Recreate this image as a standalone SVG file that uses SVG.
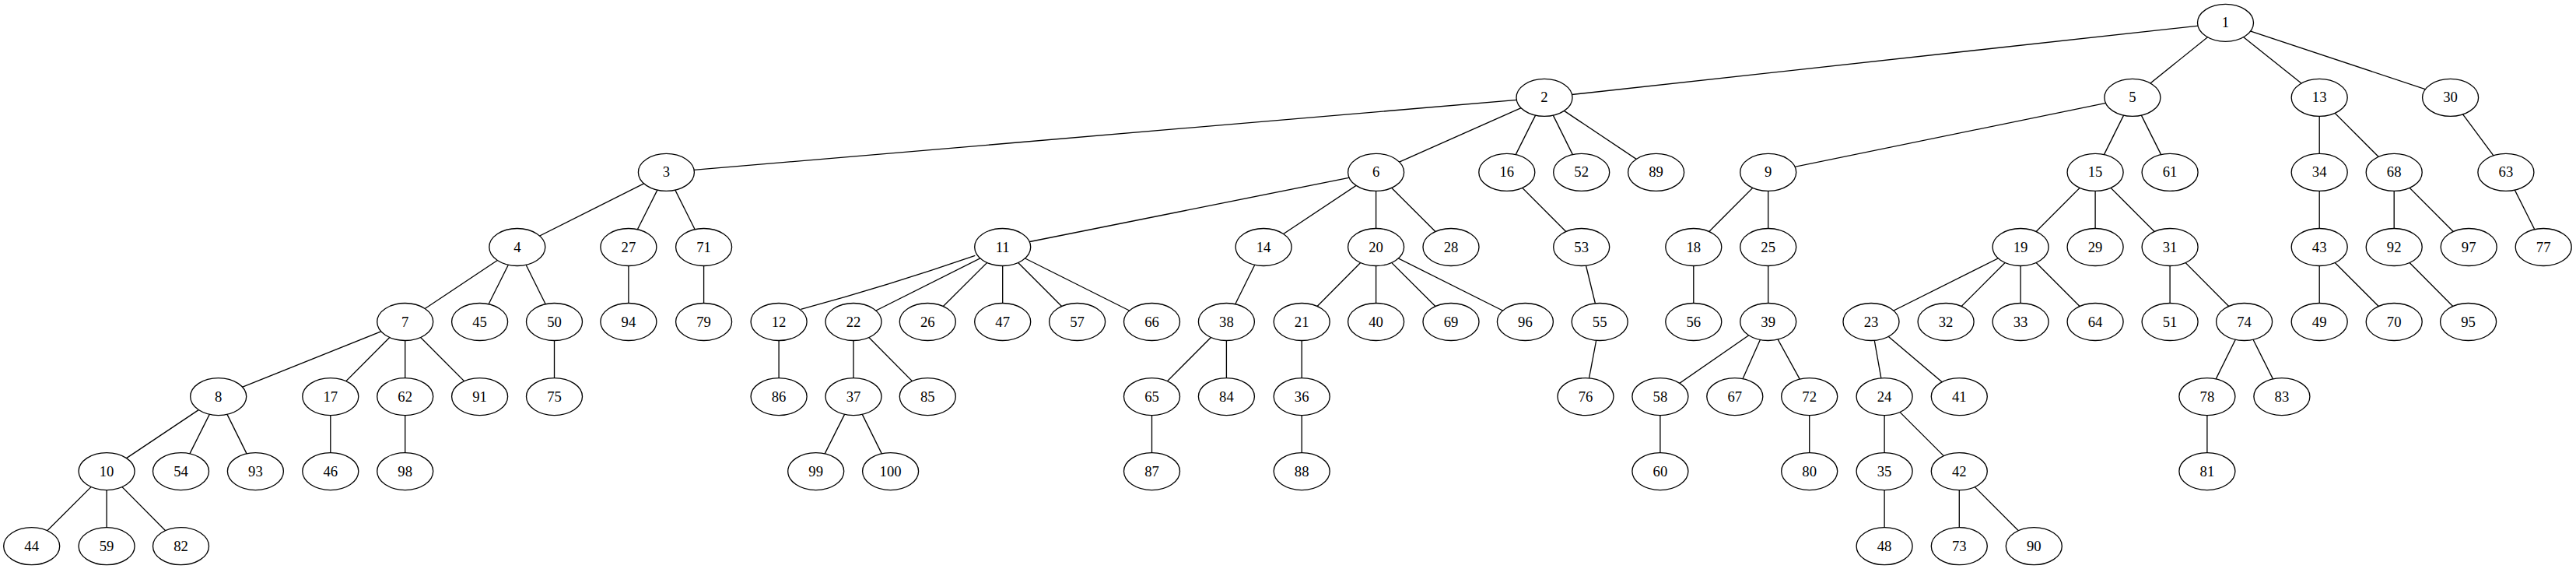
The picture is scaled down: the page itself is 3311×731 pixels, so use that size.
<svg xmlns="http://www.w3.org/2000/svg" width="3311" height="731" viewBox="0 0 3311 731">
<style>
.n ellipse{fill:#fff;stroke:#000;stroke-width:1.33}
.n text{font-family:"Liberation Serif","Times New Roman",serif;font-size:18.67px;text-anchor:middle;fill:#000}
#edges line,#edges path{stroke:#000;stroke-width:1.33;fill:none}
</style>
<rect width="3311" height="731" fill="#fff"/>
<g id="edges">
<line x1="2860.5" y1="29.3" x2="1985" y2="125.4"/>
<line x1="2860.5" y1="29.3" x2="2740.9" y2="125.4"/>
<line x1="2860.5" y1="29.3" x2="2981.2" y2="125.4"/>
<line x1="2860.5" y1="29.3" x2="3149.6" y2="125.4"/>
<line x1="1985" y1="125.4" x2="856.4" y2="221.4"/>
<line x1="1985" y1="125.4" x2="1768.6" y2="221.4"/>
<line x1="1985" y1="125.4" x2="1936.8" y2="221.4"/>
<line x1="1985" y1="125.4" x2="2032.7" y2="221.4"/>
<line x1="1985" y1="125.4" x2="2128.6" y2="221.4"/>
<line x1="856.4" y1="221.4" x2="664.8" y2="317.5"/>
<line x1="856.4" y1="221.4" x2="807.9" y2="317.5"/>
<line x1="856.4" y1="221.4" x2="904.6" y2="317.5"/>
<line x1="664.8" y1="317.5" x2="520.7" y2="413.5"/>
<line x1="664.8" y1="317.5" x2="616.6" y2="413.5"/>
<line x1="664.8" y1="317.5" x2="712.5" y2="413.5"/>
<line x1="520.7" y1="413.5" x2="280.7" y2="509.6"/>
<line x1="520.7" y1="413.5" x2="424.8" y2="509.6"/>
<line x1="520.7" y1="413.5" x2="520.7" y2="509.6"/>
<line x1="520.7" y1="413.5" x2="616.6" y2="509.6"/>
<line x1="280.7" y1="509.6" x2="137.1" y2="605.6"/>
<line x1="280.7" y1="509.6" x2="232.5" y2="605.6"/>
<line x1="280.7" y1="509.6" x2="328.4" y2="605.6"/>
<line x1="137.1" y1="605.6" x2="40.7" y2="701.7"/>
<line x1="137.1" y1="605.6" x2="137.1" y2="701.7"/>
<line x1="137.1" y1="605.6" x2="232.5" y2="701.7"/>
<line x1="424.8" y1="509.6" x2="424.8" y2="605.6"/>
<line x1="520.7" y1="509.6" x2="520.7" y2="605.6"/>
<line x1="712.5" y1="413.5" x2="712.5" y2="509.6"/>
<line x1="807.9" y1="317.5" x2="807.9" y2="413.5"/>
<line x1="904.6" y1="317.5" x2="904.6" y2="413.5"/>
<line x1="1768.6" y1="221.4" x2="1288.7" y2="317.5"/>
<line x1="1768.6" y1="221.4" x2="1624.1" y2="317.5"/>
<line x1="1768.6" y1="221.4" x2="1768.6" y2="317.5"/>
<line x1="1768.6" y1="221.4" x2="1865" y2="317.5"/>
<path d="M1253.3,328.3 Q1140.7,367.2 1029.3,397.3"/>
<line x1="1288.7" y1="317.5" x2="1097" y2="413.5"/>
<line x1="1288.7" y1="317.5" x2="1192.3" y2="413.5"/>
<line x1="1288.7" y1="317.5" x2="1288.7" y2="413.5"/>
<line x1="1288.7" y1="317.5" x2="1384.6" y2="413.5"/>
<line x1="1288.7" y1="317.5" x2="1480.5" y2="413.5"/>
<line x1="1001.1" y1="413.5" x2="1001.1" y2="509.6"/>
<line x1="1097" y1="413.5" x2="1097" y2="509.6"/>
<line x1="1097" y1="413.5" x2="1192.3" y2="509.6"/>
<line x1="1097" y1="509.6" x2="1048.7" y2="605.6"/>
<line x1="1097" y1="509.6" x2="1144.6" y2="605.6"/>
<line x1="1624.1" y1="317.5" x2="1576.4" y2="413.5"/>
<line x1="1576.4" y1="413.5" x2="1480.5" y2="509.6"/>
<line x1="1576.4" y1="413.5" x2="1576.4" y2="509.6"/>
<line x1="1480.5" y1="509.6" x2="1480.5" y2="605.6"/>
<line x1="1768.6" y1="317.5" x2="1673.2" y2="413.5"/>
<line x1="1768.6" y1="317.5" x2="1768.6" y2="413.5"/>
<line x1="1768.6" y1="317.5" x2="1865" y2="413.5"/>
<line x1="1768.6" y1="317.5" x2="1960.4" y2="413.5"/>
<line x1="1673.2" y1="413.5" x2="1673.2" y2="509.6"/>
<line x1="1673.2" y1="509.6" x2="1673.2" y2="605.6"/>
<line x1="1936.8" y1="221.4" x2="2032.7" y2="317.5"/>
<line x1="2032.7" y1="317.5" x2="2056.2" y2="413.5"/>
<line x1="2056.2" y1="413.5" x2="2038" y2="509.6"/>
<line x1="2740.9" y1="125.4" x2="2272.7" y2="221.4"/>
<line x1="2740.9" y1="125.4" x2="2693.1" y2="221.4"/>
<line x1="2740.9" y1="125.4" x2="2789.1" y2="221.4"/>
<line x1="2272.7" y1="221.4" x2="2176.8" y2="317.5"/>
<line x1="2272.7" y1="221.4" x2="2272.7" y2="317.5"/>
<line x1="2176.8" y1="317.5" x2="2176.8" y2="413.5"/>
<line x1="2272.7" y1="317.5" x2="2272.7" y2="413.5"/>
<line x1="2272.7" y1="413.5" x2="2133.9" y2="509.6"/>
<line x1="2272.7" y1="413.5" x2="2229.8" y2="509.6"/>
<line x1="2272.7" y1="413.5" x2="2325.7" y2="509.6"/>
<line x1="2133.9" y1="509.6" x2="2133.9" y2="605.6"/>
<line x1="2325.7" y1="509.6" x2="2325.7" y2="605.6"/>
<line x1="2693.1" y1="221.4" x2="2597.1" y2="317.5"/>
<line x1="2693.1" y1="221.4" x2="2693.1" y2="317.5"/>
<line x1="2693.1" y1="221.4" x2="2789.1" y2="317.5"/>
<line x1="2597.1" y1="317.5" x2="2405" y2="413.5"/>
<line x1="2597.1" y1="317.5" x2="2501.1" y2="413.5"/>
<line x1="2597.1" y1="317.5" x2="2597.1" y2="413.5"/>
<line x1="2597.1" y1="317.5" x2="2693.1" y2="413.5"/>
<line x1="2405" y1="413.5" x2="2422.1" y2="509.6"/>
<line x1="2405" y1="413.5" x2="2518.3" y2="509.6"/>
<line x1="2422.1" y1="509.6" x2="2422.1" y2="605.6"/>
<line x1="2422.1" y1="509.6" x2="2518.3" y2="605.6"/>
<line x1="2422.1" y1="605.6" x2="2422.1" y2="701.7"/>
<line x1="2518.3" y1="605.6" x2="2518.3" y2="701.7"/>
<line x1="2518.3" y1="605.6" x2="2614.3" y2="701.7"/>
<line x1="2789.1" y1="317.5" x2="2789.1" y2="413.5"/>
<line x1="2789.1" y1="317.5" x2="2884.6" y2="413.5"/>
<line x1="2884.6" y1="413.5" x2="2836.9" y2="509.6"/>
<line x1="2884.6" y1="413.5" x2="2932.9" y2="509.6"/>
<line x1="2836.9" y1="509.6" x2="2836.9" y2="605.6"/>
<line x1="2981.2" y1="125.4" x2="2981.2" y2="221.4"/>
<line x1="2981.2" y1="125.4" x2="3077.2" y2="221.4"/>
<line x1="2981.2" y1="221.4" x2="2981.2" y2="317.5"/>
<line x1="2981.2" y1="317.5" x2="2981.2" y2="413.5"/>
<line x1="2981.2" y1="317.5" x2="3077.2" y2="413.5"/>
<line x1="3077.2" y1="221.4" x2="3077.2" y2="317.5"/>
<line x1="3077.2" y1="221.4" x2="3173.2" y2="317.5"/>
<line x1="3077.2" y1="317.5" x2="3172.6" y2="413.5"/>
<line x1="3149.6" y1="125.4" x2="3220.9" y2="221.4"/>
<line x1="3220.9" y1="221.4" x2="3269.2" y2="317.5"/>
</g>
<g id="nodes">
<g id="node1" class="n"><ellipse cx="2860.5" cy="29.3" rx="36" ry="24"/><text x="2860.5" y="35.3">1</text></g>
<g id="node2" class="n"><ellipse cx="1985" cy="125.4" rx="36" ry="24"/><text x="1985" y="131.4">2</text></g>
<g id="node5" class="n"><ellipse cx="2740.9" cy="125.4" rx="36" ry="24"/><text x="2740.9" y="131.4">5</text></g>
<g id="node13" class="n"><ellipse cx="2981.2" cy="125.4" rx="36" ry="24"/><text x="2981.2" y="131.4">13</text></g>
<g id="node30" class="n"><ellipse cx="3149.6" cy="125.4" rx="36" ry="24"/><text x="3149.6" y="131.4">30</text></g>
<g id="node3" class="n"><ellipse cx="856.4" cy="221.4" rx="36" ry="24"/><text x="856.4" y="227.4">3</text></g>
<g id="node6" class="n"><ellipse cx="1768.6" cy="221.4" rx="36" ry="24"/><text x="1768.6" y="227.4">6</text></g>
<g id="node16" class="n"><ellipse cx="1936.8" cy="221.4" rx="36" ry="24"/><text x="1936.8" y="227.4">16</text></g>
<g id="node52" class="n"><ellipse cx="2032.7" cy="221.4" rx="36" ry="24"/><text x="2032.7" y="227.4">52</text></g>
<g id="node89" class="n"><ellipse cx="2128.6" cy="221.4" rx="36" ry="24"/><text x="2128.6" y="227.4">89</text></g>
<g id="node9" class="n"><ellipse cx="2272.7" cy="221.4" rx="36" ry="24"/><text x="2272.7" y="227.4">9</text></g>
<g id="node15" class="n"><ellipse cx="2693.1" cy="221.4" rx="36" ry="24"/><text x="2693.1" y="227.4">15</text></g>
<g id="node61" class="n"><ellipse cx="2789.1" cy="221.4" rx="36" ry="24"/><text x="2789.1" y="227.4">61</text></g>
<g id="node34" class="n"><ellipse cx="2981.2" cy="221.4" rx="36" ry="24"/><text x="2981.2" y="227.4">34</text></g>
<g id="node68" class="n"><ellipse cx="3077.2" cy="221.4" rx="36" ry="24"/><text x="3077.2" y="227.4">68</text></g>
<g id="node63" class="n"><ellipse cx="3220.9" cy="221.4" rx="36" ry="24"/><text x="3220.9" y="227.4">63</text></g>
<g id="node4" class="n"><ellipse cx="664.8" cy="317.5" rx="36" ry="24"/><text x="664.8" y="323.5">4</text></g>
<g id="node27" class="n"><ellipse cx="807.9" cy="317.5" rx="36" ry="24"/><text x="807.9" y="323.5">27</text></g>
<g id="node71" class="n"><ellipse cx="904.6" cy="317.5" rx="36" ry="24"/><text x="904.6" y="323.5">71</text></g>
<g id="node11" class="n"><ellipse cx="1288.7" cy="317.5" rx="36" ry="24"/><text x="1288.7" y="323.5">11</text></g>
<g id="node14" class="n"><ellipse cx="1624.1" cy="317.5" rx="36" ry="24"/><text x="1624.1" y="323.5">14</text></g>
<g id="node20" class="n"><ellipse cx="1768.6" cy="317.5" rx="36" ry="24"/><text x="1768.6" y="323.5">20</text></g>
<g id="node28" class="n"><ellipse cx="1865" cy="317.5" rx="36" ry="24"/><text x="1865" y="323.5">28</text></g>
<g id="node53" class="n"><ellipse cx="2032.7" cy="317.5" rx="36" ry="24"/><text x="2032.7" y="323.5">53</text></g>
<g id="node18" class="n"><ellipse cx="2176.8" cy="317.5" rx="36" ry="24"/><text x="2176.8" y="323.5">18</text></g>
<g id="node25" class="n"><ellipse cx="2272.7" cy="317.5" rx="36" ry="24"/><text x="2272.7" y="323.5">25</text></g>
<g id="node19" class="n"><ellipse cx="2597.1" cy="317.5" rx="36" ry="24"/><text x="2597.1" y="323.5">19</text></g>
<g id="node29" class="n"><ellipse cx="2693.1" cy="317.5" rx="36" ry="24"/><text x="2693.1" y="323.5">29</text></g>
<g id="node31" class="n"><ellipse cx="2789.1" cy="317.5" rx="36" ry="24"/><text x="2789.1" y="323.5">31</text></g>
<g id="node43" class="n"><ellipse cx="2981.2" cy="317.5" rx="36" ry="24"/><text x="2981.2" y="323.5">43</text></g>
<g id="node92" class="n"><ellipse cx="3077.2" cy="317.5" rx="36" ry="24"/><text x="3077.2" y="323.5">92</text></g>
<g id="node97" class="n"><ellipse cx="3173.2" cy="317.5" rx="36" ry="24"/><text x="3173.2" y="323.5">97</text></g>
<g id="node77" class="n"><ellipse cx="3269.2" cy="317.5" rx="36" ry="24"/><text x="3269.2" y="323.5">77</text></g>
<g id="node7" class="n"><ellipse cx="520.7" cy="413.5" rx="36" ry="24"/><text x="520.7" y="419.5">7</text></g>
<g id="node45" class="n"><ellipse cx="616.6" cy="413.5" rx="36" ry="24"/><text x="616.6" y="419.5">45</text></g>
<g id="node50" class="n"><ellipse cx="712.5" cy="413.5" rx="36" ry="24"/><text x="712.5" y="419.5">50</text></g>
<g id="node94" class="n"><ellipse cx="807.9" cy="413.5" rx="36" ry="24"/><text x="807.9" y="419.5">94</text></g>
<g id="node79" class="n"><ellipse cx="904.6" cy="413.5" rx="36" ry="24"/><text x="904.6" y="419.5">79</text></g>
<g id="node12" class="n"><ellipse cx="1001.1" cy="413.5" rx="36" ry="24"/><text x="1001.1" y="419.5">12</text></g>
<g id="node22" class="n"><ellipse cx="1097" cy="413.5" rx="36" ry="24"/><text x="1097" y="419.5">22</text></g>
<g id="node26" class="n"><ellipse cx="1192.3" cy="413.5" rx="36" ry="24"/><text x="1192.3" y="419.5">26</text></g>
<g id="node47" class="n"><ellipse cx="1288.7" cy="413.5" rx="36" ry="24"/><text x="1288.7" y="419.5">47</text></g>
<g id="node57" class="n"><ellipse cx="1384.6" cy="413.5" rx="36" ry="24"/><text x="1384.6" y="419.5">57</text></g>
<g id="node66" class="n"><ellipse cx="1480.5" cy="413.5" rx="36" ry="24"/><text x="1480.5" y="419.5">66</text></g>
<g id="node38" class="n"><ellipse cx="1576.4" cy="413.5" rx="36" ry="24"/><text x="1576.4" y="419.5">38</text></g>
<g id="node21" class="n"><ellipse cx="1673.2" cy="413.5" rx="36" ry="24"/><text x="1673.2" y="419.5">21</text></g>
<g id="node40" class="n"><ellipse cx="1768.6" cy="413.5" rx="36" ry="24"/><text x="1768.6" y="419.5">40</text></g>
<g id="node69" class="n"><ellipse cx="1865" cy="413.5" rx="36" ry="24"/><text x="1865" y="419.5">69</text></g>
<g id="node96" class="n"><ellipse cx="1960.4" cy="413.5" rx="36" ry="24"/><text x="1960.4" y="419.5">96</text></g>
<g id="node55" class="n"><ellipse cx="2056.2" cy="413.5" rx="36" ry="24"/><text x="2056.2" y="419.5">55</text></g>
<g id="node56" class="n"><ellipse cx="2176.8" cy="413.5" rx="36" ry="24"/><text x="2176.8" y="419.5">56</text></g>
<g id="node39" class="n"><ellipse cx="2272.7" cy="413.5" rx="36" ry="24"/><text x="2272.7" y="419.5">39</text></g>
<g id="node23" class="n"><ellipse cx="2405" cy="413.5" rx="36" ry="24"/><text x="2405" y="419.5">23</text></g>
<g id="node32" class="n"><ellipse cx="2501.1" cy="413.5" rx="36" ry="24"/><text x="2501.1" y="419.5">32</text></g>
<g id="node33" class="n"><ellipse cx="2597.1" cy="413.5" rx="36" ry="24"/><text x="2597.1" y="419.5">33</text></g>
<g id="node64" class="n"><ellipse cx="2693.1" cy="413.5" rx="36" ry="24"/><text x="2693.1" y="419.5">64</text></g>
<g id="node51" class="n"><ellipse cx="2789.1" cy="413.5" rx="36" ry="24"/><text x="2789.1" y="419.5">51</text></g>
<g id="node74" class="n"><ellipse cx="2884.6" cy="413.5" rx="36" ry="24"/><text x="2884.6" y="419.5">74</text></g>
<g id="node49" class="n"><ellipse cx="2981.2" cy="413.5" rx="36" ry="24"/><text x="2981.2" y="419.5">49</text></g>
<g id="node70" class="n"><ellipse cx="3077.2" cy="413.5" rx="36" ry="24"/><text x="3077.2" y="419.5">70</text></g>
<g id="node95" class="n"><ellipse cx="3172.6" cy="413.5" rx="36" ry="24"/><text x="3172.6" y="419.5">95</text></g>
<g id="node8" class="n"><ellipse cx="280.7" cy="509.6" rx="36" ry="24"/><text x="280.7" y="515.6">8</text></g>
<g id="node17" class="n"><ellipse cx="424.8" cy="509.6" rx="36" ry="24"/><text x="424.8" y="515.6">17</text></g>
<g id="node62" class="n"><ellipse cx="520.7" cy="509.6" rx="36" ry="24"/><text x="520.7" y="515.6">62</text></g>
<g id="node91" class="n"><ellipse cx="616.6" cy="509.6" rx="36" ry="24"/><text x="616.6" y="515.6">91</text></g>
<g id="node75" class="n"><ellipse cx="712.5" cy="509.6" rx="36" ry="24"/><text x="712.5" y="515.6">75</text></g>
<g id="node86" class="n"><ellipse cx="1001.1" cy="509.6" rx="36" ry="24"/><text x="1001.1" y="515.6">86</text></g>
<g id="node37" class="n"><ellipse cx="1097" cy="509.6" rx="36" ry="24"/><text x="1097" y="515.6">37</text></g>
<g id="node85" class="n"><ellipse cx="1192.3" cy="509.6" rx="36" ry="24"/><text x="1192.3" y="515.6">85</text></g>
<g id="node65" class="n"><ellipse cx="1480.5" cy="509.6" rx="36" ry="24"/><text x="1480.5" y="515.6">65</text></g>
<g id="node84" class="n"><ellipse cx="1576.4" cy="509.6" rx="36" ry="24"/><text x="1576.4" y="515.6">84</text></g>
<g id="node36" class="n"><ellipse cx="1673.2" cy="509.6" rx="36" ry="24"/><text x="1673.2" y="515.6">36</text></g>
<g id="node76" class="n"><ellipse cx="2038" cy="509.6" rx="36" ry="24"/><text x="2038" y="515.6">76</text></g>
<g id="node58" class="n"><ellipse cx="2133.9" cy="509.6" rx="36" ry="24"/><text x="2133.9" y="515.6">58</text></g>
<g id="node67" class="n"><ellipse cx="2229.8" cy="509.6" rx="36" ry="24"/><text x="2229.8" y="515.6">67</text></g>
<g id="node72" class="n"><ellipse cx="2325.7" cy="509.6" rx="36" ry="24"/><text x="2325.7" y="515.6">72</text></g>
<g id="node24" class="n"><ellipse cx="2422.1" cy="509.6" rx="36" ry="24"/><text x="2422.1" y="515.6">24</text></g>
<g id="node41" class="n"><ellipse cx="2518.3" cy="509.6" rx="36" ry="24"/><text x="2518.3" y="515.6">41</text></g>
<g id="node78" class="n"><ellipse cx="2836.9" cy="509.6" rx="36" ry="24"/><text x="2836.9" y="515.6">78</text></g>
<g id="node83" class="n"><ellipse cx="2932.9" cy="509.6" rx="36" ry="24"/><text x="2932.9" y="515.6">83</text></g>
<g id="node10" class="n"><ellipse cx="137.1" cy="605.6" rx="36" ry="24"/><text x="137.1" y="611.6">10</text></g>
<g id="node54" class="n"><ellipse cx="232.5" cy="605.6" rx="36" ry="24"/><text x="232.5" y="611.6">54</text></g>
<g id="node93" class="n"><ellipse cx="328.4" cy="605.6" rx="36" ry="24"/><text x="328.4" y="611.6">93</text></g>
<g id="node46" class="n"><ellipse cx="424.8" cy="605.6" rx="36" ry="24"/><text x="424.8" y="611.6">46</text></g>
<g id="node98" class="n"><ellipse cx="520.7" cy="605.6" rx="36" ry="24"/><text x="520.7" y="611.6">98</text></g>
<g id="node99" class="n"><ellipse cx="1048.7" cy="605.6" rx="36" ry="24"/><text x="1048.7" y="611.6">99</text></g>
<g id="node100" class="n"><ellipse cx="1144.6" cy="605.6" rx="36" ry="24"/><text x="1144.6" y="611.6">100</text></g>
<g id="node87" class="n"><ellipse cx="1480.5" cy="605.6" rx="36" ry="24"/><text x="1480.5" y="611.6">87</text></g>
<g id="node88" class="n"><ellipse cx="1673.2" cy="605.6" rx="36" ry="24"/><text x="1673.2" y="611.6">88</text></g>
<g id="node60" class="n"><ellipse cx="2133.9" cy="605.6" rx="36" ry="24"/><text x="2133.9" y="611.6">60</text></g>
<g id="node80" class="n"><ellipse cx="2325.7" cy="605.6" rx="36" ry="24"/><text x="2325.7" y="611.6">80</text></g>
<g id="node35" class="n"><ellipse cx="2422.1" cy="605.6" rx="36" ry="24"/><text x="2422.1" y="611.6">35</text></g>
<g id="node42" class="n"><ellipse cx="2518.3" cy="605.6" rx="36" ry="24"/><text x="2518.3" y="611.6">42</text></g>
<g id="node81" class="n"><ellipse cx="2836.9" cy="605.6" rx="36" ry="24"/><text x="2836.9" y="611.6">81</text></g>
<g id="node44" class="n"><ellipse cx="40.7" cy="701.7" rx="36" ry="24"/><text x="40.7" y="707.7">44</text></g>
<g id="node59" class="n"><ellipse cx="137.1" cy="701.7" rx="36" ry="24"/><text x="137.1" y="707.7">59</text></g>
<g id="node82" class="n"><ellipse cx="232.5" cy="701.7" rx="36" ry="24"/><text x="232.5" y="707.7">82</text></g>
<g id="node48" class="n"><ellipse cx="2422.1" cy="701.7" rx="36" ry="24"/><text x="2422.1" y="707.7">48</text></g>
<g id="node73" class="n"><ellipse cx="2518.3" cy="701.7" rx="36" ry="24"/><text x="2518.3" y="707.7">73</text></g>
<g id="node90" class="n"><ellipse cx="2614.3" cy="701.7" rx="36" ry="24"/><text x="2614.3" y="707.7">90</text></g>
</g>
</svg>
